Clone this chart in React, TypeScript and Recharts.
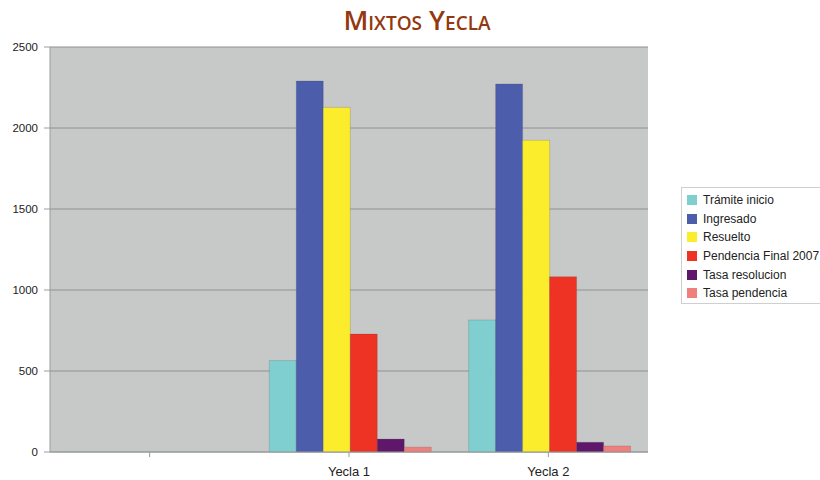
import { Bar, BarChart, CartesianGrid, Legend, XAxis, YAxis } from "recharts";

const CATEGORIES = ["", "Yecla 1", "Yecla 2"];
const TRAMITE_INICIO = [null, 565, 815];
const INGRESADO = [null, 2290, 2272];
const RESUELTO = [null, 2127, 1924];
const PENDENCIA_FINAL = [null, 728, 1082];
const TASA_RESOLUCION = [null, 80, 60];
const TASA_PENDENCIA = [null, 30, 37];
const Y_TICKS = [0, 500, 1000, 1500, 2000, 2500];

const SERIES = [
  { key: "tramite", name: "Trámite inicio", color: "#7fcfd0", values: TRAMITE_INICIO },
  { key: "ingresado", name: "Ingresado", color: "#4b5dab", values: INGRESADO },
  { key: "resuelto", name: "Resuelto", color: "#fbec2c", values: RESUELTO },
  { key: "pendencia", name: "Pendencia Final 2007", color: "#ee3325", values: PENDENCIA_FINAL },
  { key: "tasaRes", name: "Tasa resolucion", color: "#5f176a", values: TASA_RESOLUCION },
  { key: "tasaPend", name: "Tasa pendencia", color: "#ee7f7c", values: TASA_PENDENCIA },
];

const data = CATEGORIES.map((name, i) => {
  const row: Record<string, string | number | null> = { name };
  SERIES.forEach((s) => (row[s.key] = s.values[i]));
  return row;
});

const FONT = '"Liberation Sans", Arial, sans-serif';
const yTick = { fill: "#222", fontSize: 11.5, fontFamily: FONT };
const xTick = { fill: "#222", fontSize: 13, fontFamily: FONT };

function LegendBox() {
  return (
    <div
      style={{
        position: "absolute",
        left: 681,
        top: 187,
        width: 150,
        height: 117,
        border: "1px solid #cfcfcf",
        background: "#fff",
        boxSizing: "border-box",
        paddingTop: 3,
        paddingLeft: 5,
        fontFamily: FONT,
        fontSize: 12,
        color: "#222",
      }}
    >
      {SERIES.map((s) => (
        <div key={s.key} style={{ display: "flex", alignItems: "center", height: 18.6 }}>
          <span
            style={{
              display: "inline-block",
              width: 10,
              height: 10,
              background: s.color,
              marginRight: 6,
            }}
          />
          <span>{s.name}</span>
        </div>
      ))}
    </div>
  );
}

export default function App() {
  return (
    <div style={{ position: "relative", width: 820, height: 480, background: "#fff", overflow: "hidden" }}>
      <style>{`body{margin:0}`}</style>
      <div
        style={{
          position: "absolute",
          top: 1,
          left: 0,
          width: 834,
          textAlign: "center",
          fontFamily: '"Open Sans", sans-serif',
          fontWeight: 600,
          fontSize: 27,
          fontVariant: "small-caps",
          color: "#93380f",
        }}
      >
        Mixtos Yecla
      </div>
      <BarChart
        width={820}
        height={480}
        data={data}
        margin={{ top: 47, right: 172, bottom: 0, left: 0 }}
        barCategoryGap="10%"
        barGap={0}
      >
        <CartesianGrid vertical={false} stroke="#8f9292" fill="#c6c9c8" />
        <XAxis
          dataKey="name"
          height={28}
          tick={xTick}
          tickSize={5}
          tickMargin={10}
          tickLine={{ stroke: "#9a9c9c" }}
          axisLine={{ stroke: "#9a9c9c" }}
        />
        <YAxis
          width={50}
          domain={[0, 2500]}
          ticks={Y_TICKS}
          tick={yTick}
          tickSize={6}
          tickMargin={6}
          interval={0}
          tickLine={{ stroke: "#9a9c9c" }}
          axisLine={{ stroke: "#9a9c9c" }}
        />
        <YAxis
          yAxisId="right"
          orientation="right"
          width={0}
          tick={false}
          tickLine={false}
          axisLine={{ stroke: "#a8aaaa" }}
        />
        <Legend content={() => null} />
        {SERIES.map((s) => (
          <Bar
            key={s.key}
            dataKey={s.key}
            name={s.name}
            fill={s.color}
            stroke="rgba(60,60,60,0.35)"
            strokeWidth={0.5}
            isAnimationActive={false}
          />
        ))}
      </BarChart>
      <LegendBox />
    </div>
  );
}
